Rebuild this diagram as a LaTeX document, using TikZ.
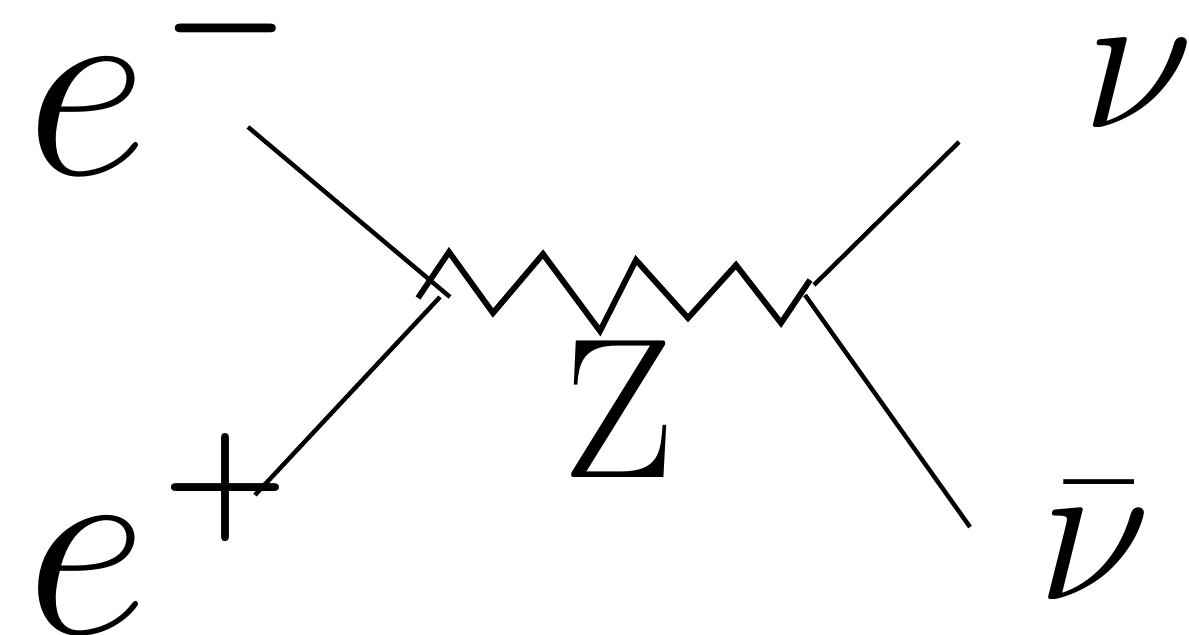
\RequirePackage{fix-cm}
\documentclass[tikz,border=0pt]{standalone}
\usetikzlibrary{positioning}
\begin{document}
\begin{tikzpicture}[
  x=0.5pt, y=-0.5pt,
  fermion/.style={line width=2.2pt},
  boson/.style={line width=2.9pt, line join=miter},
  lbl/.style={inner sep=0pt, font=\fontsize{#1}{#1}\selectfont},
  sgn/.style={inner sep=0pt, font=\fontsize{#1}{#1}\selectfont\boldmath},
]
  \useasboundingbox (0,0) rectangle (1189,635);
  % line ends
  \coordinate (a1) at (248,127);
  \coordinate (a2) at (450,297);
  \coordinate (b1) at (255,495);
  \coordinate (b2) at (440,297);
  \coordinate (c1) at (959,142);
  \coordinate (c2) at (814,285);
  \coordinate (d1) at (970,527);
  \coordinate (d2) at (805,295);
  % Z line corners
  \coordinate (z0) at (418,298);
  \coordinate (z1) at (449,252);
  \coordinate (z2) at (493,313);
  \coordinate (z3) at (543,254);
  \coordinate (z4) at (600,331);
  \coordinate (z5) at (636,260);
  \coordinate (z6) at (688,318);
  \coordinate (z7) at (736,265);
  \coordinate (z8) at (781,323);
  \coordinate (z9) at (810,280);
  \draw[fermion] (a1) -- (a2);
  \draw[fermion] (b1) -- (b2);
  \draw[fermion] (c1) -- (c2);
  \draw[fermion] (d1) -- (d2);
  \draw[boson] (z0) -- (z1) -- (z2) -- (z3) -- (z4) -- (z5) -- (z6) -- (z7) -- (z8) -- (z9);
  % labels
  \node[lbl=134] (em) at (87,117) {$e$};
  \node[sgn=72] (ems) at (226,29) {$-$};
  \node[lbl=134] (ep) at (87,576) {$e$};
  \node[sgn=72] (eps) at (225,488) {$+$};
  \node[lbl=102] (nu) at (1138,84) {$\nu$};
  \node[lbl=104, anchor=south] (nub) at (1094,600) {$\bar{\nu}$};
  \node[lbl=100] (zb) at (619,409) {Z};
\end{tikzpicture}
\end{document}
